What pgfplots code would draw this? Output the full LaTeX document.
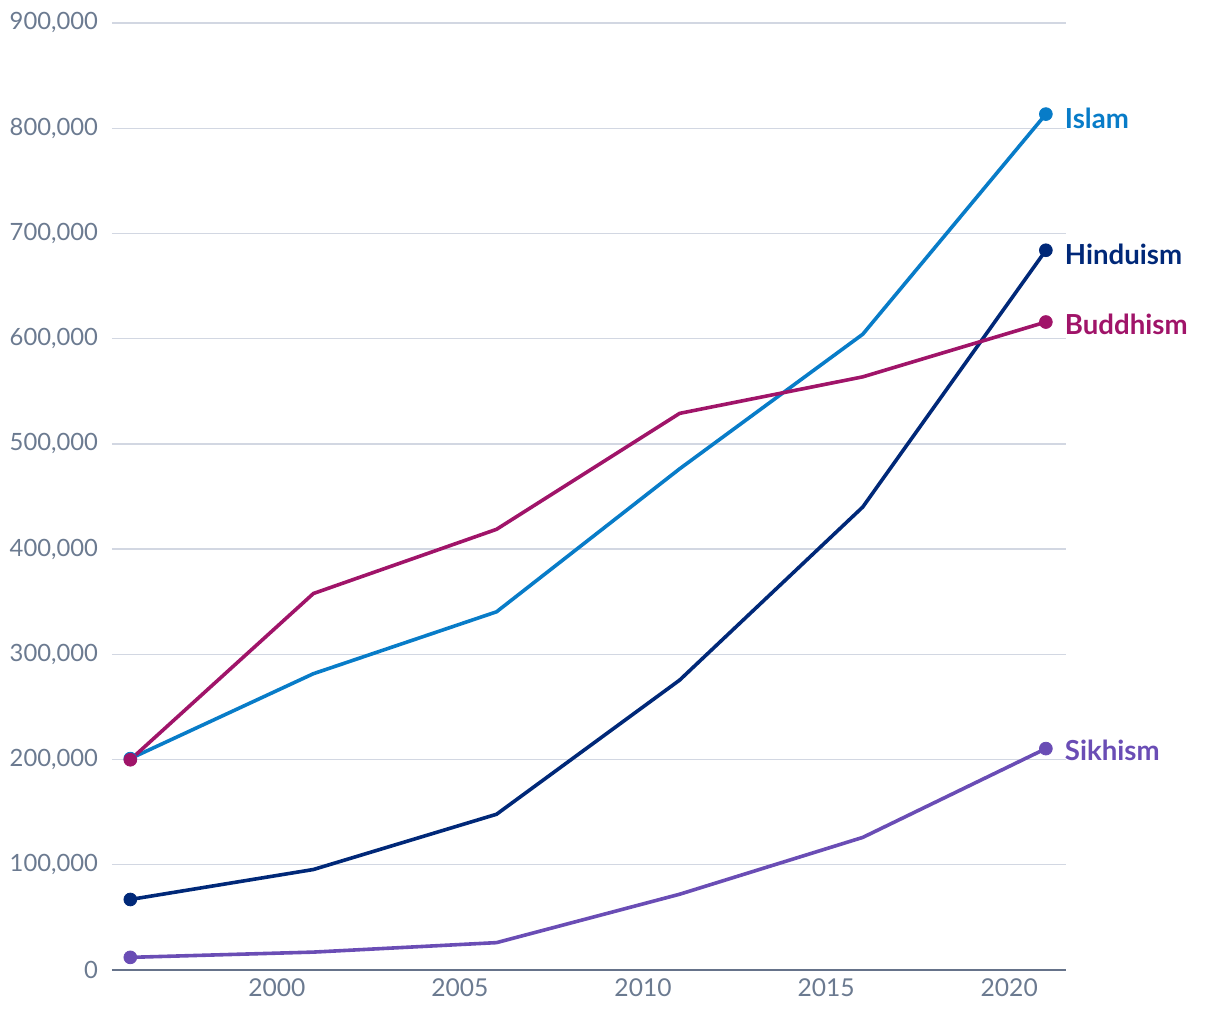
\documentclass[border=0pt]{standalone}
\usepackage{fontspec}
\setmainfont{Lato}
\usepackage{pgfplots}
\pgfplotsset{compat=1.18}
\definecolor{islam}{RGB}{8,124,200}
\definecolor{hindu}{RGB}{0,40,120}
\definecolor{buddh}{RGB}{160,20,105}
\definecolor{sikh}{RGB}{106,77,181}
\definecolor{gridc}{RGB}{210,215,226}
\definecolor{axisc}{RGB}{102,115,138}
\definecolor{tickc}{RGB}{107,122,144}
\begin{document}
\begin{tikzpicture}
\useasboundingbox (-56pt,-25pt) rectangle (554pt,485pt);
\begin{axis}[
  at={(0,0)}, anchor=south west,
  scale only axis, width=477pt, height=473.5pt,
  xmin=1995.5, xmax=2021.55, ymin=0, ymax=900000,
  axis line style={draw=none},
  axis x line*=bottom,
  axis y line*=left,
  xtick={2000,2005,2010,2015,2020},
  ytick={0,100000,...,900000},
  yticklabels={0,{100,000},{200,000},{300,000},{400,000},{500,000},{600,000},{700,000},{800,000},{900,000}},
  ymajorgrids, grid style={gridc, line width=0.7pt},
  major tick length=0pt,
  tick style={draw=none},
  scaled y ticks=false,
  /pgf/number format/assume math mode=true,
  xticklabel style={/pgf/number format/set thousands separator={}, font=\fontsize{12.3}{15}\selectfont, text=tickc, yshift=-1pt},
  yticklabel style={font=\fontsize{11.9}{15}\selectfont, text=tickc, anchor=east, xshift=-3.5pt},
  every axis plot/.append style={line width=1.8pt, mark=*, mark size=3.2pt, mark indices={1,6}},
  clip=false,
]
\addplot[sikh, mark options={fill=sikh, draw=sikh, line width=0.4pt}] coordinates {(1996,12000) (2001,17000) (2006,26000) (2011,72000) (2016,126000) (2021,210400)};
\addplot[hindu, mark options={fill=hindu, draw=hindu, line width=0.4pt}] coordinates {(1996,67000) (2001,95500) (2006,148000) (2011,275500) (2016,440000) (2021,684000)};
\addplot[islam, mark options={fill=islam, draw=islam, line width=0.4pt}] coordinates {(1996,200900) (2001,281600) (2006,340400) (2011,476300) (2016,604200) (2021,813400)};
\addplot[buddh, mark options={fill=buddh, draw=buddh, line width=0.4pt}] coordinates {(1996,199800) (2001,357800) (2006,418800) (2011,529000) (2016,563700) (2021,615800)};
\draw[axisc, line width=1pt] (rel axis cs:0,0) -- (rel axis cs:1,0);
\node[anchor=west, text=islam, font=\fontsize{13.8}{16}\selectfont\bfseries, xshift=6pt, yshift=-2pt] at (axis cs:2021,813400) {Islam};
\node[anchor=west, text=hindu, font=\fontsize{13.8}{16}\selectfont\bfseries, xshift=6pt, yshift=-2pt] at (axis cs:2021,684000) {Hinduism};
\node[anchor=west, text=buddh, font=\fontsize{13.8}{16}\selectfont\bfseries, xshift=6pt, yshift=-1pt] at (axis cs:2021,615800) {Buddhism};
\node[anchor=west, text=sikh, font=\fontsize{13.8}{16}\selectfont\bfseries, xshift=6pt, yshift=-1pt] at (axis cs:2021,210400) {Sikhism};
\end{axis}
\end{tikzpicture}
\end{document}
